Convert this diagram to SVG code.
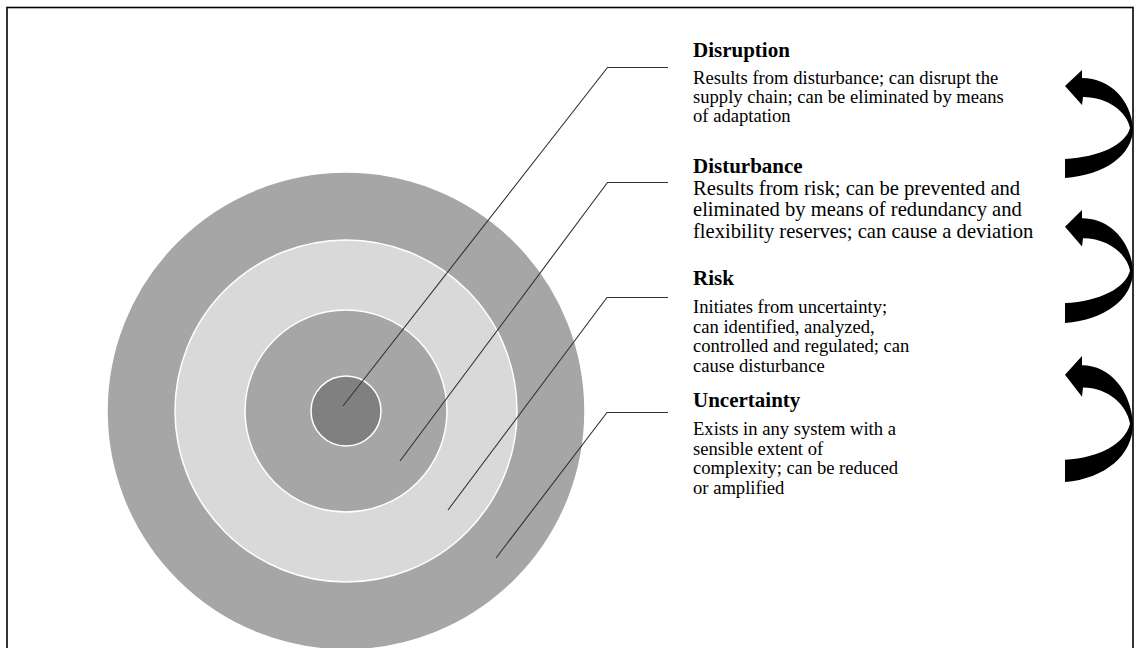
<svg xmlns="http://www.w3.org/2000/svg" width="1141" height="648" viewBox="0 0 1141 648">
<defs>
<style>
.ring{stroke:#ffffff;stroke-width:1.5}
.lead{fill:none;stroke:#333333;stroke-width:1.1}
.h{font-family:"Liberation Serif","Times New Roman",serif;font-weight:bold;font-size:21px;fill:#000}
.b{font-family:"Liberation Serif","Times New Roman",serif;font-size:18.6px;fill:#000}
.b2{font-family:"Liberation Serif","Times New Roman",serif;font-size:20.6px;fill:#000}
.arr{fill:#000}
</style>
<path id="carrow" d="M1065,16 L1082,0 L1082,8 C1110,8 1131,30 1133,58 C1133,85 1105,105 1065,108 L1065,89 C1100,87 1125,75 1130,58 C1127,42 1108,27 1083,27 L1082,35 Z"/>
</defs>
<rect x="7" y="7.5" width="1126" height="660" fill="#ffffff" stroke="#000000" stroke-width="1.6"/>
<g id="uncertainty-ring"><circle class="ring" cx="346" cy="411" r="239" fill="#a6a6a6"/></g>
<g id="risk-ring"><circle class="ring" cx="346" cy="411" r="171" fill="#d9d9d9"/></g>
<g id="disturbance-ring"><circle class="ring" cx="346" cy="411" r="101" fill="#a6a6a6"/></g>
<g id="disruption-core"><circle class="ring" cx="346" cy="411" r="35" fill="#808080"/></g>
<g id="connectors">
<polyline class="lead" points="343,406 607.5,67.5 668,67.5"/>
<polyline class="lead" points="400,461 607.5,182.5 668,182.5"/>
<polyline class="lead" points="448,510 607,297.5 668,297.5"/>
<polyline class="lead" points="496,558 607,412.5 668,412.5"/>
</g>
<g id="arrows">
<use href="#carrow" class="arr" transform="translate(0,70)"/>
<use href="#carrow" class="arr" transform="translate(0,210) scale(1,1.046)"/>
<use href="#carrow" class="arr" transform="translate(0,356) scale(1,1.167)"/>
</g>
<g id="disruption-text">
<text class="h" x="693" y="56.5">Disruption</text>
<text class="b" x="693" y="83.5">Results from disturbance; can disrupt the</text>
<text class="b" x="693" y="102.5">supply chain; can be eliminated by means</text>
<text class="b" x="693" y="121.5">of adaptation</text>
</g>
<g id="disturbance-text">
<text class="h" x="693" y="173">Disturbance</text>
<text class="b2" x="693" y="194.5">Results from risk; can be prevented and</text>
<text class="b2" x="693" y="216">eliminated by means of redundancy and</text>
<text class="b2" x="693" y="237.5">flexibility reserves; can cause a deviation</text>
</g>
<g id="risk-text">
<text class="h" x="693" y="285">Risk</text>
<text class="b" x="693" y="313">Initiates from uncertainty;</text>
<text class="b" x="693" y="332.5">can identified, analyzed,</text>
<text class="b" x="693" y="352">controlled and regulated; can</text>
<text class="b" x="693" y="371.5">cause disturbance</text>
</g>
<g id="uncertainty-text">
<text class="h" x="693" y="407">Uncertainty</text>
<text class="b" x="693" y="435">Exists in any system with a</text>
<text class="b" x="693" y="454.5">sensible extent of</text>
<text class="b" x="693" y="474">complexity; can be reduced</text>
<text class="b" x="693" y="493.5">or amplified</text>
</g>
</svg>
